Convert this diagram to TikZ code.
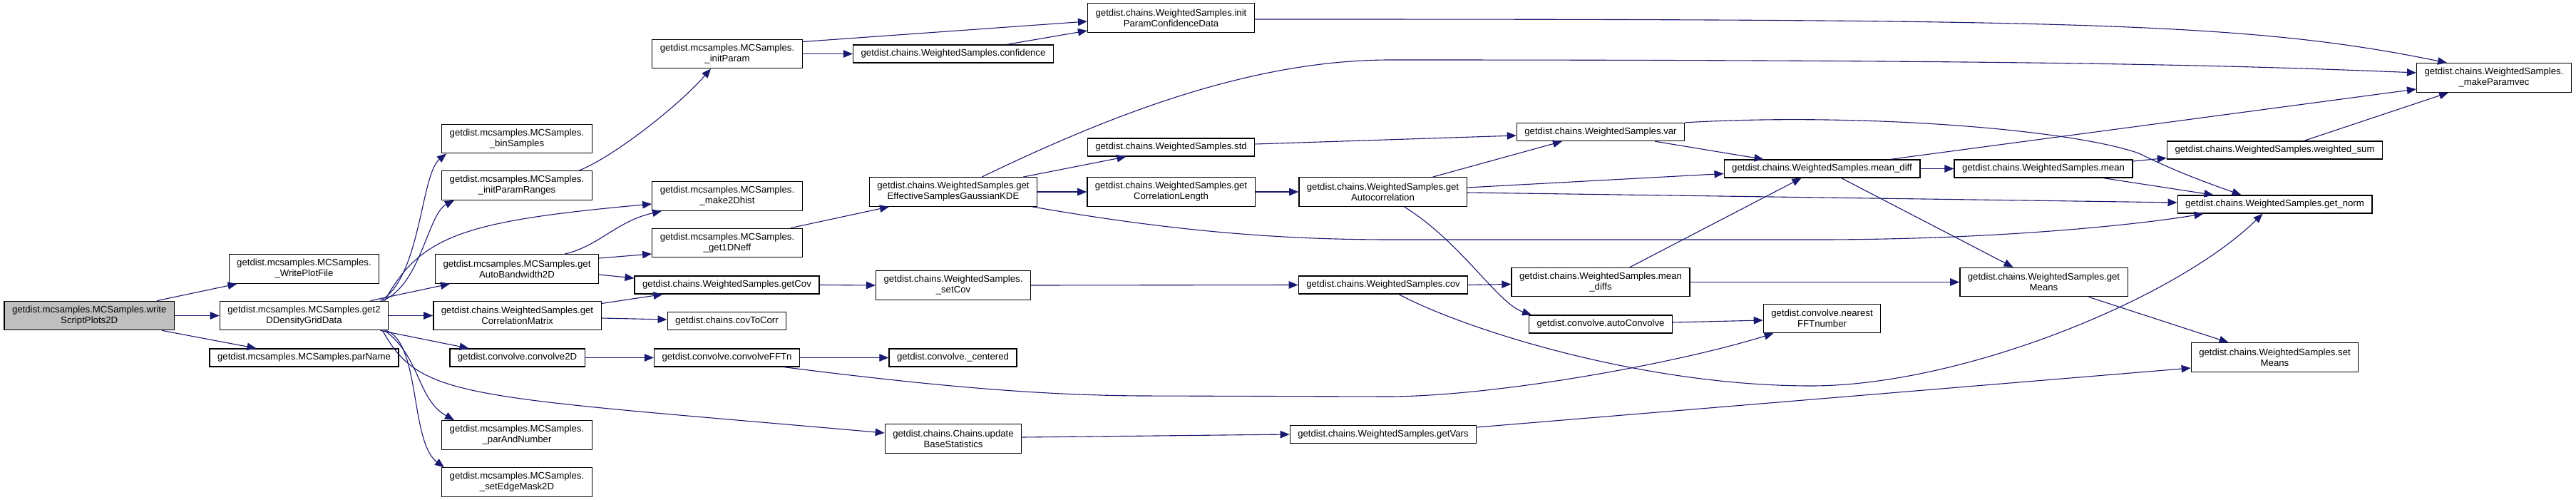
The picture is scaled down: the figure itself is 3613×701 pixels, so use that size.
\documentclass[tikz,border=0pt]{standalone}
\usepackage{fontspec}
\setmainfont{Liberation Sans}
\usepackage{xcolor}
\usepackage{tikz}
\usetikzlibrary{arrows.meta}
\definecolor{callblue}{RGB}{25,25,112}
\definecolor{rootgray}{RGB}{191,191,191}
\tikzset{
  func/.style={
    rectangle, draw=black, line width=1.3pt, fill=white,
    minimum height=25pt, inner xsep=11pt, inner ysep=0pt,
    align=center, font=\fontsize{13.2}{15}\selectfont
  },
  func2/.style={func, minimum height=40.5pt},
  rootfunc/.style={func2, fill=rootgray},
  call/.style={draw=callblue, line width=1.1pt, -{Triangle[length=13pt,width=10.5pt]}},
}

\begin{document}
\begin{tikzpicture}[x=1pt,y=-1pt]
  \useasboundingbox (0,0) rectangle (3613,701);

  % columns 1--3
  \node[rootfunc] (root) at (125.2,442.5) {getdist.mcsamples.MCSamples.write\\ScriptPlots2D};
  \node[func2] (wpf) at (426.5,377) {getdist.mcsamples.MCSamples.\\\_WritePlotFile};
  \node[func2] (get2) at (426.5,442.5) {getdist.mcsamples.MCSamples.get2\\DDensityGridData};
  \node[func] (parname) at (426.5,501.5) {getdist.mcsamples.MCSamples.parName};
  \node[func2] (bins) at (725,194.5) {getdist.mcsamples.MCSamples.\\\_binSamples};
  \node[func2] (ipr) at (725,260) {getdist.mcsamples.MCSamples.\\\_initParamRanges};
  \node[func2] (autobw) at (725,377) {getdist.mcsamples.MCSamples.get\\AutoBandwidth2D};
  \node[func2] (corrmat) at (725.5,442.5) {getdist.chains.WeightedSamples.get\\CorrelationMatrix};
  \node[func] (conv2d) at (725.5,501.5) {getdist.convolve.convolve2D};
  \node[func2] (pan) at (725,610) {getdist.mcsamples.MCSamples.\\\_parAndNumber};
  \node[func2] (sem) at (725,676) {getdist.mcsamples.MCSamples.\\\_setEdgeMask2D};

  % columns 4--5
  \node[func2] (ip) at (1020,75.5) {getdist.mcsamples.MCSamples.\\\_initParam};
  \node[func2] (m2d) at (1020,275) {getdist.mcsamples.MCSamples.\\\_make2Dhist};
  \node[func2] (neff) at (1020,340.5) {getdist.mcsamples.MCSamples.\\\_get1DNeff};
  \node[func] (getcov) at (1019.5,399.5) {getdist.chains.WeightedSamples.getCov};
  \node[func] (cov2corr) at (1019.5,450) {getdist.chains.covToCorr};
  \node[func] (fftn) at (1019.5,501.5) {getdist.convolve.convolveFFTn};
  \node[func] (conf) at (1337,75.5) {getdist.chains.WeightedSamples.confidence};
  \node[func2] (kde) at (1337,269) {getdist.chains.WeightedSamples.get\\EffectiveSamplesGaussianKDE};
  \node[func2] (setcov) at (1337,400) {getdist.chains.WeightedSamples.\\\_setCov};
  \node[func] (cent) at (1336.5,501.5) {getdist.convolve.\_centered};
  \node[func2] (ubs) at (1337,615) {getdist.chains.Chains.update\\BaseStatistics};

  % columns 6--8
  \node[func2] (ipcd) at (1642.5,25) {getdist.chains.WeightedSamples.init\\ParamConfidenceData};
  \node[func] (std) at (1642.5,206.5) {getdist.chains.WeightedSamples.std};
  \node[func2] (cl) at (1642.5,269) {getdist.chains.WeightedSamples.get\\CorrelationLength};
  \node[func2] (ac) at (1939.5,269) {getdist.chains.WeightedSamples.get\\Autocorrelation};
  \node[func] (cov) at (1940,399.5) {getdist.chains.WeightedSamples.cov};
  \node[func] (getvars) at (1940,609) {getdist.chains.WeightedSamples.getVars};
  \node[func] (var) at (2245,185) {getdist.chains.WeightedSamples.var};
  \node[func2] (mds) at (2245,395.5) {getdist.chains.WeightedSamples.mean\\\_diffs};
  \node[func] (acv) at (2245,454.5) {getdist.convolve.autoConvolve};

  % columns 9--12
  \node[func] (md) at (2555.5,236.5) {getdist.chains.WeightedSamples.mean\_diff};
  \node[func2] (nfft) at (2555.5,446.5) {getdist.convolve.nearest\\FFTnumber};
  \node[func] (mean) at (2866,236.5) {getdist.chains.WeightedSamples.mean};
  \node[func2] (gm) at (2866.5,395.5) {getdist.chains.WeightedSamples.get\\Means};
  \node[func] (ws) at (3190.5,210.5) {getdist.chains.WeightedSamples.weighted\_sum};
  \node[func] (gn) at (3190.5,286.5) {getdist.chains.WeightedSamples.get\_norm};
  \node[func2] (sm) at (3190.5,501) {getdist.chains.WeightedSamples.set\\Means};
  \node[func2] (mpv) at (3498,109) {getdist.chains.WeightedSamples.\\\_makeParamvec};

  % calls
  \draw[call] ([xshift=95pt]root.north) -- ([xshift=-94pt]wpf.south);
  \draw[call] (root.east) -- (get2.west);
  \draw[call] ([xshift=102pt]root.south) -- ([xshift=-67pt]parname.north);

  \draw[call] ([xshift=107pt]get2.north) .. controls (590,390) and (590,245) .. ([xshift=-99pt]bins.south);
  \draw[call] ([xshift=110pt]get2.north) .. controls (590,400) and (600,300) .. ([xshift=-88pt]ipr.south);
  \draw[call] ([xshift=113pt]get2.north) .. controls (590,330) and (650,310) .. ([yshift=-11pt]m2d.west);
  \draw[call] ([xshift=93pt]get2.north) -- ([xshift=-94pt]autobw.south);
  \draw[call] (get2.east) -- (corrmat.west);
  \draw[call] ([xshift=107pt]get2.south) -- ([xshift=-68pt]conv2d.north);
  \draw[call] ([xshift=110pt]get2.south) .. controls (590,560) and (650,555) .. ([yshift=8pt]ubs.west);
  \draw[call] ([xshift=113pt]get2.south) .. controls (590,500) and (585,560) .. ([xshift=-88pt]pan.north);
  \draw[call] ([xshift=115pt]get2.south) .. controls (590,480) and (575,620) .. ([xshift=-102pt]sem.north);

  \draw[call] ([xshift=87pt]ipr.north) .. controls (860,220) and (950,150) .. ([xshift=-23pt]ip.south);
  \draw[call] ([xshift=67pt]autobw.north) .. controls (840,345) and (865,310) .. ([xshift=-92pt]m2d.south);
  \draw[call] ([yshift=15pt]autobw.east) -- ([yshift=-15.5pt]neff.west);
  \draw[call] ([yshift=-8pt]autobw.east) -- ([yshift=9.5pt]getcov.west);
  \draw[call] ([yshift=17pt]corrmat.east) -- ([xshift=-90pt]getcov.south);
  \draw[call] ([yshift=-3.5pt]corrmat.east) -- ([yshift=2pt]cov2corr.west);
  \draw[call] (conv2d.east) -- (fftn.west);

  \draw[call] ([yshift=17pt]ip.east) -- ([yshift=-5pt]ipcd.west);
  \draw[call] (ip.east) -- (conf.west);
  \draw[call] ([xshift=75pt]conf.north) -- ([yshift=-18pt]ipcd.west);
  \draw[call] ([xshift=89pt]neff.north) -- ([xshift=-90pt]kde.south);
  \draw[call] (getcov.east) -- (setcov.west);
  \draw[call] (fftn.east) -- (cent.west);
  \draw[call] ([xshift=80pt]fftn.south) .. controls (1300,540) and (1450,554) .. (1600,555)
    -- (1950,556) .. controls (2100,555) and (2350,510) .. ([xshift=-68pt]nfft.south);

  \draw[call] ([yshift=-2pt]ipcd.east) .. controls (2900,27) and (3150,30) .. ([xshift=-66pt]mpv.north);
  \draw[call] ([xshift=40pt]kde.north) .. controls (1550,165) and (1750,84) .. (1950,84)
    .. controls (2800,84) and (3100,90) .. ([yshift=7pt]mpv.west);
  \draw[call] ([xshift=98pt]kde.north) -- ([xshift=-63pt]std.south);
  \draw[call] (kde.east) -- (cl.west);
  \draw[call] ([xshift=111pt]kde.south) .. controls (1650,325) and (1800,336) .. (1950,336)
    -- (2550,336) .. controls (2800,336) and (3000,315) .. ([xshift=-100pt]gn.south);
  \draw[call] (setcov.east) -- (cov.west);
  \draw[call] ([yshift=2pt]ubs.east) -- (getvars.west);

  \draw[call] ([yshift=4.5pt]std.east) -- ([yshift=-5pt]var.west);
  \draw[call] (cl.east) -- (ac.west);
  \draw[call] ([xshift=70pt]ac.north) -- ([xshift=-54pt]var.south);
  \draw[call] ([yshift=6pt]ac.east) -- ([yshift=-7pt]md.west);
  \draw[call] ([yshift=-1pt]ac.east) -- ([yshift=2.5pt]gn.west);
  \draw[call] ([xshift=30pt]ac.south) .. controls (2050,340) and (2100,425) .. ([xshift=-97pt]acv.north);
  \draw[call] (cov.east) -- ([yshift=-3pt]mds.west);
  \draw[call] ([xshift=22pt]cov.south) .. controls (2050,460) and (2300,541) .. (2540,541)
    .. controls (2750,541) and (3050,420) .. ([xshift=-17pt]gn.south);
  \draw[call] ([yshift=10pt]getvars.east) -- ([yshift=-15pt]sm.west);

  \draw[call] ([xshift=76pt]var.south) -- ([xshift=-82pt]md.north);
  \draw[call] (var.north east) .. controls (2600,158) and (2900,180) .. (3000,215)
    .. controls (3050,240) and (3100,258) .. ([xshift=-47pt]gn.north);
  \draw[call] (md.east) -- (mean.west);
  \draw[call] ([xshift=96pt]md.north) -- ([yshift=-16pt]mpv.west);
  \draw[call] ([xshift=27pt]md.south) -- ([xshift=-43pt]gm.north);
  \draw[call] ([xshift=41pt]mds.north) -- ([xshift=-29pt]md.south);
  \draw[call] (mds.east) -- (gm.west);
  \draw[call] ([yshift=2.5pt]acv.east) -- ([yshift=-2.5pt]nfft.west);

  \draw[call] ([yshift=10.5pt]mean.east) -- ([yshift=-11pt]ws.west);
  \draw[call] ([xshift=84pt]mean.south) -- ([xshift=-86pt]gn.north);
  \draw[call] ([xshift=41pt]ws.north) -- ([xshift=-64pt]mpv.south);
  \draw[call] ([xshift=63pt]gm.south) -- ([xshift=-65pt]sm.north);
\end{tikzpicture}
\end{document}
